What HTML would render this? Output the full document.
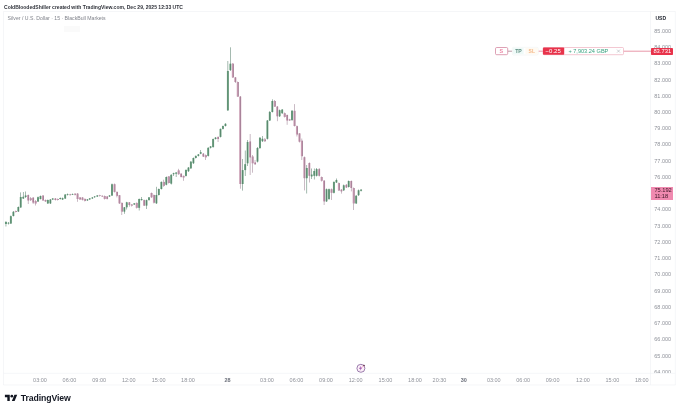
<!DOCTYPE html>
<html><head><meta charset="utf-8">
<style>
*{margin:0;padding:0;box-sizing:border-box}
html,body{width:680px;height:411px;overflow:hidden;background:#fff}
body{-webkit-font-smoothing:antialiased;position:relative;font-family:"Liberation Sans",sans-serif;color:#131722}
.abs{position:absolute}
#root{position:absolute;left:0;top:0;width:680px;height:411px;will-change:transform}
.h1{position:absolute;left:4px;top:3.5px;font-size:5.04px;font-weight:bold;white-space:nowrap;color:#30333b;line-height:7px}
.h2{position:absolute;left:7.6px;top:15px;font-size:5.16px;white-space:nowrap;color:#80838b;line-height:7px}
.pl{position:absolute;left:654.3px;width:20px;font-size:5.5px;line-height:6px;color:#8f929a;white-space:nowrap}
.tl{position:absolute;top:377px;width:30px;text-align:center;font-size:5.5px;line-height:6px;color:#8f929a;white-space:nowrap}
.tl.b{font-weight:bold;color:#6b6f7a}
</style></head><body><div id="root">
<div class="h1">ColdBloodedShiller created with TradingView.com, Dec 29, 2025 12:33 UTC</div>
<div class="abs" style="left:63.7px;top:26.2px;width:16.4px;height:5.7px;background:#fafafa"></div>
<div class="h2">Silver / U.S. Dollar · 15 · BlackBull Markets</div>
<svg class="abs" style="left:0;top:0" width="680" height="411" viewBox="0 0 680 411">
<g stroke="#eef0f4" stroke-width="0.6" fill="none">
<line x1="3.5" y1="11.5" x2="675.5" y2="11.5"/>
<line x1="3.5" y1="11.5" x2="3.5" y2="385"/>
<line x1="3.5" y1="385" x2="675.5" y2="385"/>
<line x1="675.3" y1="11.5" x2="675.3" y2="385"/>
<line x1="650.5" y1="11.5" x2="650.5" y2="385"/>
<line x1="3.5" y1="373.3" x2="675.3" y2="373.3"/>
</g>
<g style="filter:blur(0.2px)">
<rect x="5.71" y="221.00" width="0.5" height="5.50" fill="#4a7560"/>
<rect x="4.96" y="222.00" width="2.0" height="2.00" fill="#74a888"/>
<rect x="5.66" y="222.00" width="0.6" height="2.00" fill="#4a7560"/>
<rect x="8.18" y="222.00" width="0.5" height="2.50" fill="#4a7560"/>
<rect x="7.43" y="222.80" width="2.0" height="0.70" fill="#74a888"/>
<rect x="8.13" y="222.80" width="0.6" height="0.70" fill="#4a7560"/>
<rect x="10.64" y="215.50" width="0.5" height="8.50" fill="#4a7560"/>
<rect x="9.89" y="216.20" width="2.0" height="7.30" fill="#74a888"/>
<rect x="10.59" y="216.20" width="0.6" height="7.30" fill="#4a7560"/>
<rect x="13.11" y="211.00" width="0.5" height="5.50" fill="#4a7560"/>
<rect x="12.36" y="211.80" width="2.0" height="4.20" fill="#74a888"/>
<rect x="13.06" y="211.80" width="0.6" height="4.20" fill="#4a7560"/>
<rect x="15.57" y="210.50" width="0.5" height="2.00" fill="#94768a"/>
<rect x="14.82" y="211.00" width="2.0" height="1.00" fill="#c99ab2"/>
<rect x="15.97" y="211.00" width="0.6" height="1.00" fill="#94768a"/>
<rect x="18.04" y="206.50" width="0.5" height="5.50" fill="#4a7560"/>
<rect x="17.29" y="207.00" width="2.0" height="4.50" fill="#74a888"/>
<rect x="17.99" y="207.00" width="0.6" height="4.50" fill="#4a7560"/>
<rect x="20.51" y="192.40" width="0.5" height="15.10" fill="#4a7560"/>
<rect x="19.76" y="197.00" width="2.0" height="10.50" fill="#74a888"/>
<rect x="20.46" y="197.00" width="0.6" height="10.50" fill="#4a7560"/>
<rect x="22.97" y="192.00" width="0.5" height="7.00" fill="#4a7560"/>
<rect x="22.22" y="196.80" width="2.0" height="1.70" fill="#74a888"/>
<rect x="22.92" y="196.80" width="0.6" height="1.70" fill="#4a7560"/>
<rect x="25.44" y="191.50" width="0.5" height="6.50" fill="#4a7560"/>
<rect x="24.69" y="195.50" width="2.0" height="1.50" fill="#74a888"/>
<rect x="25.39" y="195.50" width="0.6" height="1.50" fill="#4a7560"/>
<rect x="27.90" y="194.50" width="0.5" height="9.50" fill="#94768a"/>
<rect x="27.15" y="195.00" width="2.0" height="5.50" fill="#c99ab2"/>
<rect x="28.30" y="195.00" width="0.6" height="5.50" fill="#94768a"/>
<rect x="30.37" y="197.00" width="0.5" height="4.00" fill="#94768a"/>
<rect x="29.62" y="198.20" width="2.0" height="2.00" fill="#c99ab2"/>
<rect x="30.77" y="198.20" width="0.6" height="2.00" fill="#94768a"/>
<rect x="32.84" y="197.00" width="0.5" height="7.00" fill="#94768a"/>
<rect x="32.09" y="197.70" width="2.0" height="4.90" fill="#c99ab2"/>
<rect x="33.24" y="197.70" width="0.6" height="4.90" fill="#94768a"/>
<rect x="35.30" y="200.00" width="0.5" height="5.50" fill="#94768a"/>
<rect x="34.55" y="201.00" width="2.0" height="2.50" fill="#c99ab2"/>
<rect x="35.70" y="201.00" width="0.6" height="2.50" fill="#94768a"/>
<rect x="37.77" y="196.50" width="0.5" height="5.50" fill="#4a7560"/>
<rect x="37.02" y="197.20" width="2.0" height="4.30" fill="#74a888"/>
<rect x="37.72" y="197.20" width="0.6" height="4.30" fill="#4a7560"/>
<rect x="40.23" y="195.50" width="0.5" height="4.00" fill="#4a7560"/>
<rect x="39.48" y="196.00" width="2.0" height="3.00" fill="#74a888"/>
<rect x="40.18" y="196.00" width="0.6" height="3.00" fill="#4a7560"/>
<rect x="42.70" y="195.00" width="0.5" height="6.00" fill="#94768a"/>
<rect x="41.95" y="195.60" width="2.0" height="4.80" fill="#c99ab2"/>
<rect x="43.10" y="195.60" width="0.6" height="4.80" fill="#94768a"/>
<rect x="45.17" y="199.50" width="0.5" height="2.50" fill="#94768a"/>
<rect x="44.42" y="200.00" width="2.0" height="1.40" fill="#c99ab2"/>
<rect x="45.57" y="200.00" width="0.6" height="1.40" fill="#94768a"/>
<rect x="47.63" y="199.50" width="0.5" height="4.50" fill="#4a7560"/>
<rect x="46.88" y="200.00" width="2.0" height="3.40" fill="#74a888"/>
<rect x="47.58" y="200.00" width="0.6" height="3.40" fill="#4a7560"/>
<rect x="50.10" y="199.00" width="0.5" height="5.00" fill="#4a7560"/>
<rect x="49.35" y="199.50" width="2.0" height="3.90" fill="#74a888"/>
<rect x="50.05" y="199.50" width="0.6" height="3.90" fill="#4a7560"/>
<rect x="52.56" y="198.00" width="0.5" height="2.00" fill="#4a7560"/>
<rect x="51.81" y="198.50" width="2.0" height="1.00" fill="#74a888"/>
<rect x="52.51" y="198.50" width="0.6" height="1.00" fill="#4a7560"/>
<rect x="55.03" y="198.00" width="0.5" height="2.50" fill="#94768a"/>
<rect x="54.28" y="198.50" width="2.0" height="1.50" fill="#c99ab2"/>
<rect x="55.43" y="198.50" width="0.6" height="1.50" fill="#94768a"/>
<rect x="57.50" y="198.50" width="0.5" height="2.00" fill="#94768a"/>
<rect x="56.75" y="199.00" width="2.0" height="1.00" fill="#c99ab2"/>
<rect x="57.90" y="199.00" width="0.6" height="1.00" fill="#94768a"/>
<rect x="59.96" y="197.50" width="0.5" height="2.00" fill="#4a7560"/>
<rect x="59.21" y="198.00" width="2.0" height="1.00" fill="#74a888"/>
<rect x="59.91" y="198.00" width="0.6" height="1.00" fill="#4a7560"/>
<rect x="62.43" y="197.50" width="0.5" height="2.50" fill="#4a7560"/>
<rect x="61.68" y="198.20" width="2.0" height="1.30" fill="#74a888"/>
<rect x="62.38" y="198.20" width="0.6" height="1.30" fill="#4a7560"/>
<rect x="64.89" y="194.00" width="0.5" height="5.00" fill="#4a7560"/>
<rect x="64.14" y="194.60" width="2.0" height="3.90" fill="#74a888"/>
<rect x="64.84" y="194.60" width="0.6" height="3.90" fill="#4a7560"/>
<rect x="67.36" y="193.50" width="0.5" height="2.00" fill="#4a7560"/>
<rect x="66.61" y="194.10" width="2.0" height="0.70" fill="#74a888"/>
<rect x="67.31" y="194.10" width="0.6" height="0.70" fill="#4a7560"/>
<rect x="69.83" y="193.80" width="0.5" height="1.80" fill="#94768a"/>
<rect x="69.08" y="194.40" width="2.0" height="0.70" fill="#c99ab2"/>
<rect x="70.23" y="194.40" width="0.6" height="0.70" fill="#94768a"/>
<rect x="72.29" y="193.50" width="0.5" height="1.50" fill="#4a7560"/>
<rect x="71.54" y="194.00" width="2.0" height="0.70" fill="#74a888"/>
<rect x="72.24" y="194.00" width="0.6" height="0.70" fill="#4a7560"/>
<rect x="74.76" y="193.00" width="0.5" height="2.50" fill="#94768a"/>
<rect x="74.01" y="193.80" width="2.0" height="1.00" fill="#c99ab2"/>
<rect x="75.16" y="193.80" width="0.6" height="1.00" fill="#94768a"/>
<rect x="77.22" y="193.00" width="0.5" height="8.80" fill="#94768a"/>
<rect x="76.47" y="193.60" width="2.0" height="5.40" fill="#c99ab2"/>
<rect x="77.62" y="193.60" width="0.6" height="5.40" fill="#94768a"/>
<rect x="79.69" y="197.00" width="0.5" height="3.00" fill="#94768a"/>
<rect x="78.94" y="197.50" width="2.0" height="1.90" fill="#c99ab2"/>
<rect x="80.09" y="197.50" width="0.6" height="1.90" fill="#94768a"/>
<rect x="82.16" y="197.00" width="0.5" height="3.50" fill="#94768a"/>
<rect x="81.41" y="197.50" width="2.0" height="2.40" fill="#c99ab2"/>
<rect x="82.56" y="197.50" width="0.6" height="2.40" fill="#94768a"/>
<rect x="84.62" y="198.50" width="0.5" height="3.00" fill="#94768a"/>
<rect x="83.87" y="198.90" width="2.0" height="2.00" fill="#c99ab2"/>
<rect x="85.02" y="198.90" width="0.6" height="2.00" fill="#94768a"/>
<rect x="87.09" y="199.00" width="0.5" height="2.00" fill="#4a7560"/>
<rect x="86.34" y="199.40" width="2.0" height="1.00" fill="#74a888"/>
<rect x="87.04" y="199.40" width="0.6" height="1.00" fill="#4a7560"/>
<rect x="89.55" y="198.00" width="0.5" height="2.00" fill="#4a7560"/>
<rect x="88.80" y="198.40" width="2.0" height="1.00" fill="#74a888"/>
<rect x="89.50" y="198.40" width="0.6" height="1.00" fill="#4a7560"/>
<rect x="92.02" y="197.00" width="0.5" height="2.00" fill="#4a7560"/>
<rect x="91.27" y="197.50" width="2.0" height="0.90" fill="#74a888"/>
<rect x="91.97" y="197.50" width="0.6" height="0.90" fill="#4a7560"/>
<rect x="94.49" y="196.00" width="0.5" height="1.80" fill="#4a7560"/>
<rect x="93.74" y="196.50" width="2.0" height="0.70" fill="#74a888"/>
<rect x="94.44" y="196.50" width="0.6" height="0.70" fill="#4a7560"/>
<rect x="96.95" y="195.00" width="0.5" height="2.00" fill="#4a7560"/>
<rect x="96.20" y="195.50" width="2.0" height="1.00" fill="#74a888"/>
<rect x="96.90" y="195.50" width="0.6" height="1.00" fill="#4a7560"/>
<rect x="99.42" y="194.80" width="0.5" height="1.70" fill="#94768a"/>
<rect x="98.67" y="195.30" width="2.0" height="0.70" fill="#c99ab2"/>
<rect x="99.82" y="195.30" width="0.6" height="0.70" fill="#94768a"/>
<rect x="101.88" y="195.30" width="0.5" height="1.70" fill="#94768a"/>
<rect x="101.13" y="195.80" width="2.0" height="0.70" fill="#c99ab2"/>
<rect x="102.28" y="195.80" width="0.6" height="0.70" fill="#94768a"/>
<rect x="104.35" y="195.50" width="0.5" height="4.00" fill="#94768a"/>
<rect x="103.60" y="196.00" width="2.0" height="2.90" fill="#c99ab2"/>
<rect x="104.75" y="196.00" width="0.6" height="2.90" fill="#94768a"/>
<rect x="106.82" y="196.00" width="0.5" height="3.50" fill="#94768a"/>
<rect x="106.07" y="196.50" width="2.0" height="2.40" fill="#c99ab2"/>
<rect x="107.22" y="196.50" width="0.6" height="2.40" fill="#94768a"/>
<rect x="109.28" y="195.00" width="0.5" height="2.00" fill="#4a7560"/>
<rect x="108.53" y="195.50" width="2.0" height="1.00" fill="#74a888"/>
<rect x="109.23" y="195.50" width="0.6" height="1.00" fill="#4a7560"/>
<rect x="111.75" y="183.50" width="0.5" height="12.50" fill="#4a7560"/>
<rect x="111.00" y="184.30" width="2.0" height="11.20" fill="#74a888"/>
<rect x="111.70" y="184.30" width="0.6" height="11.20" fill="#4a7560"/>
<rect x="114.21" y="183.50" width="0.5" height="9.00" fill="#94768a"/>
<rect x="113.46" y="184.20" width="2.0" height="7.70" fill="#c99ab2"/>
<rect x="114.61" y="184.20" width="0.6" height="7.70" fill="#94768a"/>
<rect x="116.68" y="191.50" width="0.5" height="5.90" fill="#94768a"/>
<rect x="115.93" y="191.90" width="2.0" height="3.90" fill="#c99ab2"/>
<rect x="117.08" y="191.90" width="0.6" height="3.90" fill="#94768a"/>
<rect x="119.15" y="195.00" width="0.5" height="9.00" fill="#94768a"/>
<rect x="118.40" y="195.20" width="2.0" height="8.20" fill="#c99ab2"/>
<rect x="119.55" y="195.20" width="0.6" height="8.20" fill="#94768a"/>
<rect x="121.61" y="202.50" width="0.5" height="12.50" fill="#94768a"/>
<rect x="120.86" y="202.90" width="2.0" height="8.70" fill="#c99ab2"/>
<rect x="122.01" y="202.90" width="0.6" height="8.70" fill="#94768a"/>
<rect x="124.08" y="207.00" width="0.5" height="6.80" fill="#4a7560"/>
<rect x="123.33" y="207.30" width="2.0" height="4.30" fill="#74a888"/>
<rect x="124.03" y="207.30" width="0.6" height="4.30" fill="#4a7560"/>
<rect x="126.54" y="201.80" width="0.5" height="7.70" fill="#4a7560"/>
<rect x="125.79" y="202.30" width="2.0" height="5.00" fill="#74a888"/>
<rect x="126.49" y="202.30" width="0.6" height="5.00" fill="#4a7560"/>
<rect x="129.01" y="202.00" width="0.5" height="4.70" fill="#94768a"/>
<rect x="128.26" y="202.30" width="2.0" height="2.70" fill="#c99ab2"/>
<rect x="129.41" y="202.30" width="0.6" height="2.70" fill="#94768a"/>
<rect x="131.48" y="204.00" width="0.5" height="2.50" fill="#94768a"/>
<rect x="130.73" y="204.50" width="2.0" height="1.10" fill="#c99ab2"/>
<rect x="131.88" y="204.50" width="0.6" height="1.10" fill="#94768a"/>
<rect x="133.94" y="203.00" width="0.5" height="2.00" fill="#4a7560"/>
<rect x="133.19" y="203.40" width="2.0" height="1.10" fill="#74a888"/>
<rect x="133.89" y="203.40" width="0.6" height="1.10" fill="#4a7560"/>
<rect x="136.41" y="202.50" width="0.5" height="6.00" fill="#94768a"/>
<rect x="135.66" y="202.90" width="2.0" height="4.90" fill="#c99ab2"/>
<rect x="136.81" y="202.90" width="0.6" height="4.90" fill="#94768a"/>
<rect x="138.87" y="198.50" width="0.5" height="12.00" fill="#4a7560"/>
<rect x="138.12" y="199.00" width="2.0" height="8.80" fill="#74a888"/>
<rect x="138.82" y="199.00" width="0.6" height="8.80" fill="#4a7560"/>
<rect x="141.34" y="197.00" width="0.5" height="3.50" fill="#4a7560"/>
<rect x="140.59" y="199.00" width="2.0" height="1.10" fill="#74a888"/>
<rect x="141.29" y="199.00" width="0.6" height="1.10" fill="#4a7560"/>
<rect x="143.81" y="199.50" width="0.5" height="6.50" fill="#94768a"/>
<rect x="143.06" y="200.10" width="2.0" height="5.50" fill="#c99ab2"/>
<rect x="144.21" y="200.10" width="0.6" height="5.50" fill="#94768a"/>
<rect x="146.27" y="199.50" width="0.5" height="9.50" fill="#4a7560"/>
<rect x="145.52" y="200.10" width="2.0" height="5.50" fill="#74a888"/>
<rect x="146.22" y="200.10" width="0.6" height="5.50" fill="#4a7560"/>
<rect x="148.74" y="197.00" width="0.5" height="3.50" fill="#4a7560"/>
<rect x="147.99" y="197.40" width="2.0" height="2.70" fill="#74a888"/>
<rect x="148.69" y="197.40" width="0.6" height="2.70" fill="#4a7560"/>
<rect x="151.20" y="192.50" width="0.5" height="5.50" fill="#94768a"/>
<rect x="150.45" y="193.00" width="2.0" height="4.30" fill="#c99ab2"/>
<rect x="151.60" y="193.00" width="0.6" height="4.30" fill="#94768a"/>
<rect x="153.67" y="194.50" width="0.5" height="9.00" fill="#94768a"/>
<rect x="152.92" y="195.00" width="2.0" height="7.70" fill="#c99ab2"/>
<rect x="154.07" y="195.00" width="0.6" height="7.70" fill="#94768a"/>
<rect x="156.14" y="186.80" width="0.5" height="17.20" fill="#4a7560"/>
<rect x="155.39" y="195.00" width="2.0" height="8.30" fill="#74a888"/>
<rect x="156.09" y="195.00" width="0.6" height="8.30" fill="#4a7560"/>
<rect x="158.60" y="188.50" width="0.5" height="7.00" fill="#4a7560"/>
<rect x="157.85" y="189.00" width="2.0" height="6.00" fill="#74a888"/>
<rect x="158.55" y="189.00" width="0.6" height="6.00" fill="#4a7560"/>
<rect x="161.07" y="181.50" width="0.5" height="8.00" fill="#4a7560"/>
<rect x="160.32" y="181.90" width="2.0" height="7.10" fill="#74a888"/>
<rect x="161.02" y="181.90" width="0.6" height="7.10" fill="#4a7560"/>
<rect x="163.53" y="179.70" width="0.5" height="7.10" fill="#94768a"/>
<rect x="162.78" y="181.90" width="2.0" height="3.90" fill="#c99ab2"/>
<rect x="163.93" y="181.90" width="0.6" height="3.90" fill="#94768a"/>
<rect x="166.00" y="176.50" width="0.5" height="8.80" fill="#4a7560"/>
<rect x="165.25" y="177.00" width="2.0" height="7.70" fill="#74a888"/>
<rect x="165.95" y="177.00" width="0.6" height="7.70" fill="#4a7560"/>
<rect x="168.47" y="176.00" width="0.5" height="7.50" fill="#94768a"/>
<rect x="167.72" y="176.40" width="2.0" height="6.60" fill="#c99ab2"/>
<rect x="168.87" y="176.40" width="0.6" height="6.60" fill="#94768a"/>
<rect x="170.93" y="174.30" width="0.5" height="10.20" fill="#4a7560"/>
<rect x="170.18" y="174.80" width="2.0" height="8.80" fill="#74a888"/>
<rect x="170.88" y="174.80" width="0.6" height="8.80" fill="#4a7560"/>
<rect x="173.40" y="172.70" width="0.5" height="3.30" fill="#4a7560"/>
<rect x="172.65" y="173.20" width="2.0" height="1.00" fill="#74a888"/>
<rect x="173.35" y="173.20" width="0.6" height="1.00" fill="#4a7560"/>
<rect x="175.86" y="172.00" width="0.5" height="5.00" fill="#4a7560"/>
<rect x="175.11" y="172.60" width="2.0" height="1.10" fill="#74a888"/>
<rect x="175.81" y="172.60" width="0.6" height="1.10" fill="#4a7560"/>
<rect x="178.33" y="168.80" width="0.5" height="6.00" fill="#94768a"/>
<rect x="177.58" y="170.40" width="2.0" height="3.80" fill="#c99ab2"/>
<rect x="178.73" y="170.40" width="0.6" height="3.80" fill="#94768a"/>
<rect x="180.80" y="173.20" width="0.5" height="4.30" fill="#94768a"/>
<rect x="180.05" y="173.70" width="2.0" height="3.30" fill="#c99ab2"/>
<rect x="181.20" y="173.70" width="0.6" height="3.30" fill="#94768a"/>
<rect x="183.26" y="175.50" width="0.5" height="5.30" fill="#94768a"/>
<rect x="182.51" y="175.90" width="2.0" height="1.60" fill="#c99ab2"/>
<rect x="183.66" y="175.90" width="0.6" height="1.60" fill="#94768a"/>
<rect x="185.73" y="169.50" width="0.5" height="7.00" fill="#4a7560"/>
<rect x="184.98" y="169.90" width="2.0" height="6.00" fill="#74a888"/>
<rect x="185.68" y="169.90" width="0.6" height="6.00" fill="#4a7560"/>
<rect x="188.19" y="167.00" width="0.5" height="5.00" fill="#4a7560"/>
<rect x="187.44" y="167.60" width="2.0" height="3.60" fill="#74a888"/>
<rect x="188.14" y="167.60" width="0.6" height="3.60" fill="#4a7560"/>
<rect x="190.66" y="161.00" width="0.5" height="8.00" fill="#4a7560"/>
<rect x="189.91" y="161.70" width="2.0" height="6.60" fill="#74a888"/>
<rect x="190.61" y="161.70" width="0.6" height="6.60" fill="#4a7560"/>
<rect x="193.13" y="157.50" width="0.5" height="6.50" fill="#4a7560"/>
<rect x="192.38" y="158.00" width="2.0" height="5.20" fill="#74a888"/>
<rect x="193.08" y="158.00" width="0.6" height="5.20" fill="#4a7560"/>
<rect x="195.59" y="155.50" width="0.5" height="3.00" fill="#4a7560"/>
<rect x="194.84" y="155.90" width="2.0" height="2.10" fill="#74a888"/>
<rect x="195.54" y="155.90" width="0.6" height="2.10" fill="#4a7560"/>
<rect x="198.06" y="154.00" width="0.5" height="2.50" fill="#4a7560"/>
<rect x="197.31" y="154.40" width="2.0" height="1.50" fill="#74a888"/>
<rect x="198.01" y="154.40" width="0.6" height="1.50" fill="#4a7560"/>
<rect x="200.52" y="150.00" width="0.5" height="4.20" fill="#4a7560"/>
<rect x="199.77" y="152.20" width="2.0" height="1.50" fill="#74a888"/>
<rect x="200.47" y="152.20" width="0.6" height="1.50" fill="#4a7560"/>
<rect x="202.99" y="153.00" width="0.5" height="4.00" fill="#94768a"/>
<rect x="202.24" y="153.70" width="2.0" height="2.90" fill="#c99ab2"/>
<rect x="203.39" y="153.70" width="0.6" height="2.90" fill="#94768a"/>
<rect x="205.46" y="154.50" width="0.5" height="5.50" fill="#94768a"/>
<rect x="204.71" y="155.10" width="2.0" height="2.20" fill="#c99ab2"/>
<rect x="205.86" y="155.10" width="0.6" height="2.20" fill="#94768a"/>
<rect x="207.92" y="147.30" width="0.5" height="9.20" fill="#4a7560"/>
<rect x="207.17" y="147.80" width="2.0" height="8.10" fill="#74a888"/>
<rect x="207.87" y="147.80" width="0.6" height="8.10" fill="#4a7560"/>
<rect x="210.39" y="146.00" width="0.5" height="2.50" fill="#4a7560"/>
<rect x="209.64" y="146.40" width="2.0" height="1.40" fill="#74a888"/>
<rect x="210.34" y="146.40" width="0.6" height="1.40" fill="#4a7560"/>
<rect x="212.85" y="138.50" width="0.5" height="9.00" fill="#4a7560"/>
<rect x="212.10" y="139.00" width="2.0" height="8.10" fill="#74a888"/>
<rect x="212.80" y="139.00" width="0.6" height="8.10" fill="#4a7560"/>
<rect x="215.32" y="137.00" width="0.5" height="2.50" fill="#4a7560"/>
<rect x="214.57" y="137.60" width="2.0" height="1.40" fill="#74a888"/>
<rect x="215.27" y="137.60" width="0.6" height="1.40" fill="#4a7560"/>
<rect x="217.79" y="136.50" width="0.5" height="5.50" fill="#94768a"/>
<rect x="217.04" y="136.90" width="2.0" height="2.10" fill="#c99ab2"/>
<rect x="218.19" y="136.90" width="0.6" height="2.10" fill="#94768a"/>
<rect x="220.25" y="128.50" width="0.5" height="9.00" fill="#4a7560"/>
<rect x="219.50" y="128.90" width="2.0" height="8.00" fill="#74a888"/>
<rect x="220.20" y="128.90" width="0.6" height="8.00" fill="#4a7560"/>
<rect x="222.72" y="125.50" width="0.5" height="4.00" fill="#4a7560"/>
<rect x="221.97" y="126.00" width="2.0" height="2.90" fill="#74a888"/>
<rect x="222.67" y="126.00" width="0.6" height="2.90" fill="#4a7560"/>
<rect x="225.18" y="123.20" width="0.5" height="3.30" fill="#4a7560"/>
<rect x="224.43" y="123.80" width="2.0" height="2.20" fill="#74a888"/>
<rect x="225.13" y="123.80" width="0.6" height="2.20" fill="#4a7560"/>
<rect x="227.65" y="61.00" width="0.5" height="50.00" fill="#4a7560"/>
<rect x="226.90" y="71.00" width="2.0" height="39.30" fill="#74a888"/>
<rect x="227.60" y="71.00" width="0.6" height="39.30" fill="#4a7560"/>
<rect x="230.12" y="47.30" width="0.5" height="23.70" fill="#4a7560"/>
<rect x="229.37" y="63.70" width="2.0" height="6.40" fill="#74a888"/>
<rect x="230.07" y="63.70" width="0.6" height="6.40" fill="#4a7560"/>
<rect x="232.58" y="63.00" width="0.5" height="15.00" fill="#94768a"/>
<rect x="231.83" y="63.70" width="2.0" height="13.70" fill="#c99ab2"/>
<rect x="232.98" y="63.70" width="0.6" height="13.70" fill="#94768a"/>
<rect x="235.05" y="77.00" width="0.5" height="6.00" fill="#94768a"/>
<rect x="234.30" y="77.40" width="2.0" height="4.60" fill="#c99ab2"/>
<rect x="235.45" y="77.40" width="0.6" height="4.60" fill="#94768a"/>
<rect x="237.51" y="81.50" width="0.5" height="15.50" fill="#94768a"/>
<rect x="236.76" y="82.00" width="2.0" height="14.60" fill="#c99ab2"/>
<rect x="237.91" y="82.00" width="0.6" height="14.60" fill="#94768a"/>
<rect x="239.98" y="96.00" width="0.5" height="92.70" fill="#94768a"/>
<rect x="239.23" y="96.60" width="2.0" height="87.40" fill="#c99ab2"/>
<rect x="240.38" y="96.60" width="0.6" height="87.40" fill="#94768a"/>
<rect x="242.45" y="159.00" width="0.5" height="31.60" fill="#4a7560"/>
<rect x="241.70" y="170.10" width="2.0" height="13.90" fill="#74a888"/>
<rect x="242.40" y="170.10" width="0.6" height="13.90" fill="#4a7560"/>
<rect x="244.91" y="150.50" width="0.5" height="25.50" fill="#4a7560"/>
<rect x="244.16" y="164.20" width="2.0" height="5.90" fill="#74a888"/>
<rect x="244.86" y="164.20" width="0.6" height="5.90" fill="#4a7560"/>
<rect x="247.38" y="140.00" width="0.5" height="26.00" fill="#4a7560"/>
<rect x="246.63" y="142.00" width="2.0" height="21.30" fill="#74a888"/>
<rect x="247.33" y="142.00" width="0.6" height="21.30" fill="#4a7560"/>
<rect x="249.84" y="134.00" width="0.5" height="41.00" fill="#94768a"/>
<rect x="249.09" y="141.50" width="2.0" height="15.90" fill="#c99ab2"/>
<rect x="250.24" y="141.50" width="0.6" height="15.90" fill="#94768a"/>
<rect x="252.31" y="155.00" width="0.5" height="17.70" fill="#94768a"/>
<rect x="251.56" y="156.50" width="2.0" height="6.80" fill="#c99ab2"/>
<rect x="252.71" y="156.50" width="0.6" height="6.80" fill="#94768a"/>
<rect x="254.78" y="160.00" width="0.5" height="5.00" fill="#94768a"/>
<rect x="254.03" y="162.50" width="2.0" height="1.70" fill="#c99ab2"/>
<rect x="255.18" y="162.50" width="0.6" height="1.70" fill="#94768a"/>
<rect x="257.24" y="147.00" width="0.5" height="15.50" fill="#4a7560"/>
<rect x="256.49" y="148.00" width="2.0" height="13.60" fill="#74a888"/>
<rect x="257.19" y="148.00" width="0.6" height="13.60" fill="#4a7560"/>
<rect x="259.71" y="137.00" width="0.5" height="12.00" fill="#4a7560"/>
<rect x="258.96" y="137.80" width="2.0" height="10.20" fill="#74a888"/>
<rect x="259.66" y="137.80" width="0.6" height="10.20" fill="#4a7560"/>
<rect x="262.17" y="136.00" width="0.5" height="6.00" fill="#4a7560"/>
<rect x="261.42" y="138.80" width="2.0" height="2.40" fill="#74a888"/>
<rect x="262.12" y="138.80" width="0.6" height="2.40" fill="#4a7560"/>
<rect x="264.64" y="138.00" width="0.5" height="4.00" fill="#94768a"/>
<rect x="263.89" y="139.40" width="2.0" height="1.80" fill="#c99ab2"/>
<rect x="265.04" y="139.40" width="0.6" height="1.80" fill="#94768a"/>
<rect x="267.11" y="120.00" width="0.5" height="19.50" fill="#4a7560"/>
<rect x="266.36" y="120.50" width="2.0" height="18.30" fill="#74a888"/>
<rect x="267.06" y="120.50" width="0.6" height="18.30" fill="#4a7560"/>
<rect x="269.57" y="111.00" width="0.5" height="10.00" fill="#4a7560"/>
<rect x="268.82" y="112.00" width="2.0" height="8.50" fill="#74a888"/>
<rect x="269.52" y="112.00" width="0.6" height="8.50" fill="#4a7560"/>
<rect x="272.04" y="99.30" width="0.5" height="13.20" fill="#4a7560"/>
<rect x="271.29" y="101.00" width="2.0" height="11.00" fill="#74a888"/>
<rect x="271.99" y="101.00" width="0.6" height="11.00" fill="#4a7560"/>
<rect x="274.50" y="100.00" width="0.5" height="7.00" fill="#94768a"/>
<rect x="273.75" y="101.00" width="2.0" height="5.60" fill="#c99ab2"/>
<rect x="274.90" y="101.00" width="0.6" height="5.60" fill="#94768a"/>
<rect x="276.97" y="106.00" width="0.5" height="15.20" fill="#94768a"/>
<rect x="276.22" y="106.60" width="2.0" height="9.70" fill="#c99ab2"/>
<rect x="277.37" y="106.60" width="0.6" height="9.70" fill="#94768a"/>
<rect x="279.44" y="109.50" width="0.5" height="7.50" fill="#4a7560"/>
<rect x="278.69" y="110.20" width="2.0" height="6.10" fill="#74a888"/>
<rect x="279.39" y="110.20" width="0.6" height="6.10" fill="#4a7560"/>
<rect x="281.90" y="109.00" width="0.5" height="5.00" fill="#4a7560"/>
<rect x="281.15" y="109.60" width="2.0" height="3.60" fill="#74a888"/>
<rect x="281.85" y="109.60" width="0.6" height="3.60" fill="#4a7560"/>
<rect x="284.37" y="112.50" width="0.5" height="5.00" fill="#94768a"/>
<rect x="283.62" y="113.20" width="2.0" height="3.70" fill="#c99ab2"/>
<rect x="284.77" y="113.20" width="0.6" height="3.70" fill="#94768a"/>
<rect x="286.83" y="114.50" width="0.5" height="10.30" fill="#94768a"/>
<rect x="286.08" y="115.00" width="2.0" height="5.50" fill="#c99ab2"/>
<rect x="287.23" y="115.00" width="0.6" height="5.50" fill="#94768a"/>
<rect x="289.30" y="118.80" width="0.5" height="2.20" fill="#94768a"/>
<rect x="288.55" y="119.30" width="2.0" height="1.20" fill="#c99ab2"/>
<rect x="289.70" y="119.30" width="0.6" height="1.20" fill="#94768a"/>
<rect x="291.77" y="110.00" width="0.5" height="11.00" fill="#4a7560"/>
<rect x="291.02" y="110.80" width="2.0" height="9.20" fill="#74a888"/>
<rect x="291.72" y="110.80" width="0.6" height="9.20" fill="#4a7560"/>
<rect x="294.23" y="104.10" width="0.5" height="22.40" fill="#94768a"/>
<rect x="293.48" y="110.80" width="2.0" height="15.20" fill="#c99ab2"/>
<rect x="294.63" y="110.80" width="0.6" height="15.20" fill="#94768a"/>
<rect x="296.70" y="125.50" width="0.5" height="11.00" fill="#94768a"/>
<rect x="295.95" y="126.20" width="2.0" height="8.30" fill="#c99ab2"/>
<rect x="297.10" y="126.20" width="0.6" height="8.30" fill="#94768a"/>
<rect x="299.16" y="133.00" width="0.5" height="9.50" fill="#94768a"/>
<rect x="298.41" y="133.40" width="2.0" height="8.30" fill="#c99ab2"/>
<rect x="299.56" y="133.40" width="0.6" height="8.30" fill="#94768a"/>
<rect x="301.63" y="138.50" width="0.5" height="21.50" fill="#94768a"/>
<rect x="300.88" y="140.70" width="2.0" height="15.50" fill="#c99ab2"/>
<rect x="302.03" y="140.70" width="0.6" height="15.50" fill="#94768a"/>
<rect x="304.10" y="156.50" width="0.5" height="33.90" fill="#94768a"/>
<rect x="303.35" y="157.20" width="2.0" height="21.00" fill="#c99ab2"/>
<rect x="304.50" y="157.20" width="0.6" height="21.00" fill="#94768a"/>
<rect x="306.56" y="165.00" width="0.5" height="28.50" fill="#4a7560"/>
<rect x="305.81" y="168.00" width="2.0" height="10.20" fill="#74a888"/>
<rect x="306.51" y="168.00" width="0.6" height="10.20" fill="#4a7560"/>
<rect x="309.03" y="162.40" width="0.5" height="20.10" fill="#94768a"/>
<rect x="308.28" y="163.00" width="2.0" height="12.80" fill="#c99ab2"/>
<rect x="309.43" y="163.00" width="0.6" height="12.80" fill="#94768a"/>
<rect x="311.49" y="168.50" width="0.5" height="10.50" fill="#4a7560"/>
<rect x="310.74" y="174.60" width="2.0" height="1.80" fill="#74a888"/>
<rect x="311.44" y="174.60" width="0.6" height="1.80" fill="#4a7560"/>
<rect x="313.96" y="168.50" width="0.5" height="11.00" fill="#4a7560"/>
<rect x="313.21" y="171.00" width="2.0" height="4.80" fill="#74a888"/>
<rect x="313.91" y="171.00" width="0.6" height="4.80" fill="#4a7560"/>
<rect x="316.43" y="168.00" width="0.5" height="8.50" fill="#4a7560"/>
<rect x="315.68" y="169.10" width="2.0" height="6.70" fill="#74a888"/>
<rect x="316.38" y="169.10" width="0.6" height="6.70" fill="#4a7560"/>
<rect x="318.89" y="168.00" width="0.5" height="8.50" fill="#94768a"/>
<rect x="318.14" y="169.10" width="2.0" height="6.70" fill="#c99ab2"/>
<rect x="319.29" y="169.10" width="0.6" height="6.70" fill="#94768a"/>
<rect x="321.36" y="176.50" width="0.5" height="5.00" fill="#94768a"/>
<rect x="320.61" y="177.00" width="2.0" height="3.70" fill="#c99ab2"/>
<rect x="321.76" y="177.00" width="0.6" height="3.70" fill="#94768a"/>
<rect x="323.82" y="180.00" width="0.5" height="25.00" fill="#94768a"/>
<rect x="323.07" y="180.70" width="2.0" height="20.70" fill="#c99ab2"/>
<rect x="324.22" y="180.70" width="0.6" height="20.70" fill="#94768a"/>
<rect x="326.29" y="188.50" width="0.5" height="13.50" fill="#4a7560"/>
<rect x="325.54" y="189.20" width="2.0" height="12.20" fill="#74a888"/>
<rect x="326.24" y="189.20" width="0.6" height="12.20" fill="#4a7560"/>
<rect x="328.76" y="188.50" width="0.5" height="11.50" fill="#4a7560"/>
<rect x="328.01" y="189.20" width="2.0" height="9.80" fill="#74a888"/>
<rect x="328.71" y="189.20" width="0.6" height="9.80" fill="#4a7560"/>
<rect x="331.22" y="188.50" width="0.5" height="11.50" fill="#94768a"/>
<rect x="330.47" y="189.20" width="2.0" height="3.60" fill="#c99ab2"/>
<rect x="331.62" y="189.20" width="0.6" height="3.60" fill="#94768a"/>
<rect x="333.69" y="181.50" width="0.5" height="12.00" fill="#4a7560"/>
<rect x="332.94" y="181.90" width="2.0" height="10.90" fill="#74a888"/>
<rect x="333.64" y="181.90" width="0.6" height="10.90" fill="#4a7560"/>
<rect x="336.15" y="178.50" width="0.5" height="4.50" fill="#4a7560"/>
<rect x="335.40" y="180.00" width="2.0" height="2.50" fill="#74a888"/>
<rect x="336.10" y="180.00" width="0.6" height="2.50" fill="#4a7560"/>
<rect x="338.62" y="182.50" width="0.5" height="8.50" fill="#94768a"/>
<rect x="337.87" y="183.10" width="2.0" height="7.30" fill="#c99ab2"/>
<rect x="339.02" y="183.10" width="0.6" height="7.30" fill="#94768a"/>
<rect x="341.09" y="189.00" width="0.5" height="4.60" fill="#94768a"/>
<rect x="340.34" y="189.70" width="2.0" height="1.70" fill="#c99ab2"/>
<rect x="341.49" y="189.70" width="0.6" height="1.70" fill="#94768a"/>
<rect x="343.55" y="184.50" width="0.5" height="6.50" fill="#4a7560"/>
<rect x="342.80" y="185.30" width="2.0" height="5.00" fill="#74a888"/>
<rect x="343.50" y="185.30" width="0.6" height="5.00" fill="#4a7560"/>
<rect x="346.02" y="184.00" width="0.5" height="4.00" fill="#94768a"/>
<rect x="345.27" y="184.80" width="2.0" height="2.70" fill="#c99ab2"/>
<rect x="346.42" y="184.80" width="0.6" height="2.70" fill="#94768a"/>
<rect x="348.48" y="180.50" width="0.5" height="7.00" fill="#4a7560"/>
<rect x="347.73" y="181.00" width="2.0" height="6.00" fill="#74a888"/>
<rect x="348.43" y="181.00" width="0.6" height="6.00" fill="#4a7560"/>
<rect x="350.95" y="180.50" width="0.5" height="10.90" fill="#94768a"/>
<rect x="350.20" y="181.00" width="2.0" height="7.00" fill="#c99ab2"/>
<rect x="351.35" y="181.00" width="0.6" height="7.00" fill="#94768a"/>
<rect x="353.42" y="187.50" width="0.5" height="22.50" fill="#94768a"/>
<rect x="352.67" y="188.00" width="2.0" height="15.40" fill="#c99ab2"/>
<rect x="353.82" y="188.00" width="0.6" height="15.40" fill="#94768a"/>
<rect x="355.88" y="195.00" width="0.5" height="9.00" fill="#4a7560"/>
<rect x="355.13" y="195.80" width="2.0" height="7.60" fill="#74a888"/>
<rect x="355.83" y="195.80" width="0.6" height="7.60" fill="#4a7560"/>
<rect x="358.35" y="189.50" width="0.5" height="6.50" fill="#4a7560"/>
<rect x="357.60" y="190.30" width="2.0" height="4.90" fill="#74a888"/>
<rect x="358.30" y="190.30" width="0.6" height="4.90" fill="#4a7560"/>
<rect x="360.81" y="189.00" width="0.5" height="2.50" fill="#4a7560"/>
<rect x="360.06" y="189.70" width="2.0" height="1.10" fill="#74a888"/>
<rect x="360.76" y="189.70" width="0.6" height="1.10" fill="#4a7560"/>
</g>
</svg>
<div class="abs" style="left:0;top:0;width:680px;height:373.3px;overflow:hidden">
<div class="pl" style="top:27.80px">85.000</div>
<div class="pl" style="top:44.04px">84.000</div>
<div class="pl" style="top:60.28px">83.000</div>
<div class="pl" style="top:76.52px">82.000</div>
<div class="pl" style="top:92.76px">81.000</div>
<div class="pl" style="top:109.00px">80.000</div>
<div class="pl" style="top:125.24px">79.000</div>
<div class="pl" style="top:141.48px">78.000</div>
<div class="pl" style="top:157.72px">77.000</div>
<div class="pl" style="top:173.96px">76.000</div>
<div class="pl" style="top:190.20px">75.000</div>
<div class="pl" style="top:206.44px">74.000</div>
<div class="pl" style="top:222.68px">73.000</div>
<div class="pl" style="top:238.92px">72.000</div>
<div class="pl" style="top:255.16px">71.000</div>
<div class="pl" style="top:271.40px">70.000</div>
<div class="pl" style="top:287.64px">69.000</div>
<div class="pl" style="top:303.88px">68.000</div>
<div class="pl" style="top:320.12px">67.000</div>
<div class="pl" style="top:336.36px">66.000</div>
<div class="pl" style="top:352.60px">65.000</div>
<div class="pl" style="top:368.84px">64.000</div>
</div>
<div class="abs" style="left:655.5px;top:15.5px;font-size:5px;font-weight:bold;line-height:5px;color:#1e222d">USD</div>
<div class="abs" style="left:650.8px;top:48px;width:22.5px;height:6.8px;background:#e8334b;border-radius:0.8px"></div>
<div class="abs" style="left:653.4px;top:48px;font-size:5.8px;line-height:6.8px;color:#fff">83.731</div>
<div class="abs" style="left:650.8px;top:186.7px;width:22.5px;height:13.1px;background:#f08ab0"></div>
<div class="abs" style="left:654.4px;top:186.9px;font-size:5.7px;line-height:6.3px;color:#3a1424">75.192<br>11:18</div>
<!-- position tool -->
<svg class="abs" style="left:0;top:0" width="680" height="411" viewBox="0 0 680 411">
<line x1="507.8" y1="51.2" x2="512.2" y2="51.2" stroke="#9c6e80" stroke-width="0.7"/>
<line x1="538.3" y1="51.2" x2="543" y2="51.2" stroke="#e06a84" stroke-width="0.7"/>
<line x1="623.5" y1="51.2" x2="651" y2="51.2" stroke="#e06a84" stroke-width="0.7"/>
<rect x="495.5" y="47.5" width="12.2" height="7.2" rx="1.2" fill="#fff" stroke="#d07895" stroke-width="0.7"/>
<rect x="512.4" y="47.3" width="25.8" height="7.7" rx="1.2" fill="#fff" stroke="#eef2f0" stroke-width="0.6"/>
<rect x="543" y="47.5" width="80.5" height="7.2" rx="1" fill="#fff" stroke="#eba2b4" stroke-width="0.6"/>
<rect x="543" y="47.5" width="21.2" height="7.2" rx="0.8" fill="#e8334b"/>
<rect x="513" y="47.8" width="10.6" height="6.4" fill="#effaf8"/>
<rect x="525.5" y="47.8" width="12.2" height="6.4" fill="#fffaf2"/>
<g stroke="#a0a3aa" stroke-width="0.5"><path d="M617 49.6 L620 52.6 M620 49.6 L617 52.6"/></g>
<circle cx="360.9" cy="368.3" r="4" fill="#fcf0f8" stroke="#84609a" stroke-width="0.8"/><path d="M360.9 368.3 L364 365.5" stroke="#f3a6c8" stroke-width="0.9"/>
<path d="M361.3 365.6 L358.9 368.8 L360.5 368.8 L359.7 371 L362.1 367.8 L360.5 367.8 Z" fill="#9a52b0"/>
<circle cx="364" cy="365.5" r="0.8" fill="#5a2a40"/>
<g transform="translate(4.9,393.4) scale(0.347)" fill="#131722"><path d="M14 22H7V11H0V4h14v18zM28 22h-8l7.5-18h8L28 22z"/><circle cx="20" cy="8" r="4"/></g>
</svg>
<div class="abs" style="left:515.2px;top:47.9px;font-size:5.2px;line-height:6px;font-weight:bold;color:#5f8f82">TP</div>
<div class="abs" style="left:528.6px;top:48px;font-size:5px;line-height:6px;font-weight:bold;color:#f4b88a">SL</div>
<div class="abs" style="left:499.6px;top:47.9px;font-size:5.4px;line-height:6px;font-weight:bold;color:#ec86a4">S</div>
<div class="abs" style="left:545.6px;top:47.9px;font-size:6px;line-height:6.5px;color:#fff">−0.25</div>
<div class="abs" style="left:568.4px;top:48px;font-size:5.6px;line-height:6.5px;color:#3aa380;white-space:nowrap">+ 7,903.24 GBP</div>
<div class="abs" style="left:20.8px;top:394.4px;font-size:8.7px;line-height:9px;font-weight:bold;color:#131722;letter-spacing:-0.1px">TradingView</div>
<div class="tl" style="left:25.0px">03:00</div>
<div class="tl" style="left:54.5px">06:00</div>
<div class="tl" style="left:84.2px">09:00</div>
<div class="tl" style="left:113.8px">12:00</div>
<div class="tl" style="left:143.7px">15:00</div>
<div class="tl" style="left:173.0px">18:00</div>
<div class="tl b" style="left:212.5px">28</div>
<div class="tl" style="left:252.0px">03:00</div>
<div class="tl" style="left:281.5px">06:00</div>
<div class="tl" style="left:311.0px">09:00</div>
<div class="tl" style="left:340.7px">12:00</div>
<div class="tl" style="left:370.5px">15:00</div>
<div class="tl" style="left:400.0px">18:00</div>
<div class="tl" style="left:424.5px">20:30</div>
<div class="tl b" style="left:448.7px">30</div>
<div class="tl" style="left:478.8px">03:00</div>
<div class="tl" style="left:508.2px">06:00</div>
<div class="tl" style="left:537.6px">09:00</div>
<div class="tl" style="left:568.0px">12:00</div>
<div class="tl" style="left:597.4px">15:00</div>
<div class="tl" style="left:626.8px">18:00</div>
</div></body></html>
